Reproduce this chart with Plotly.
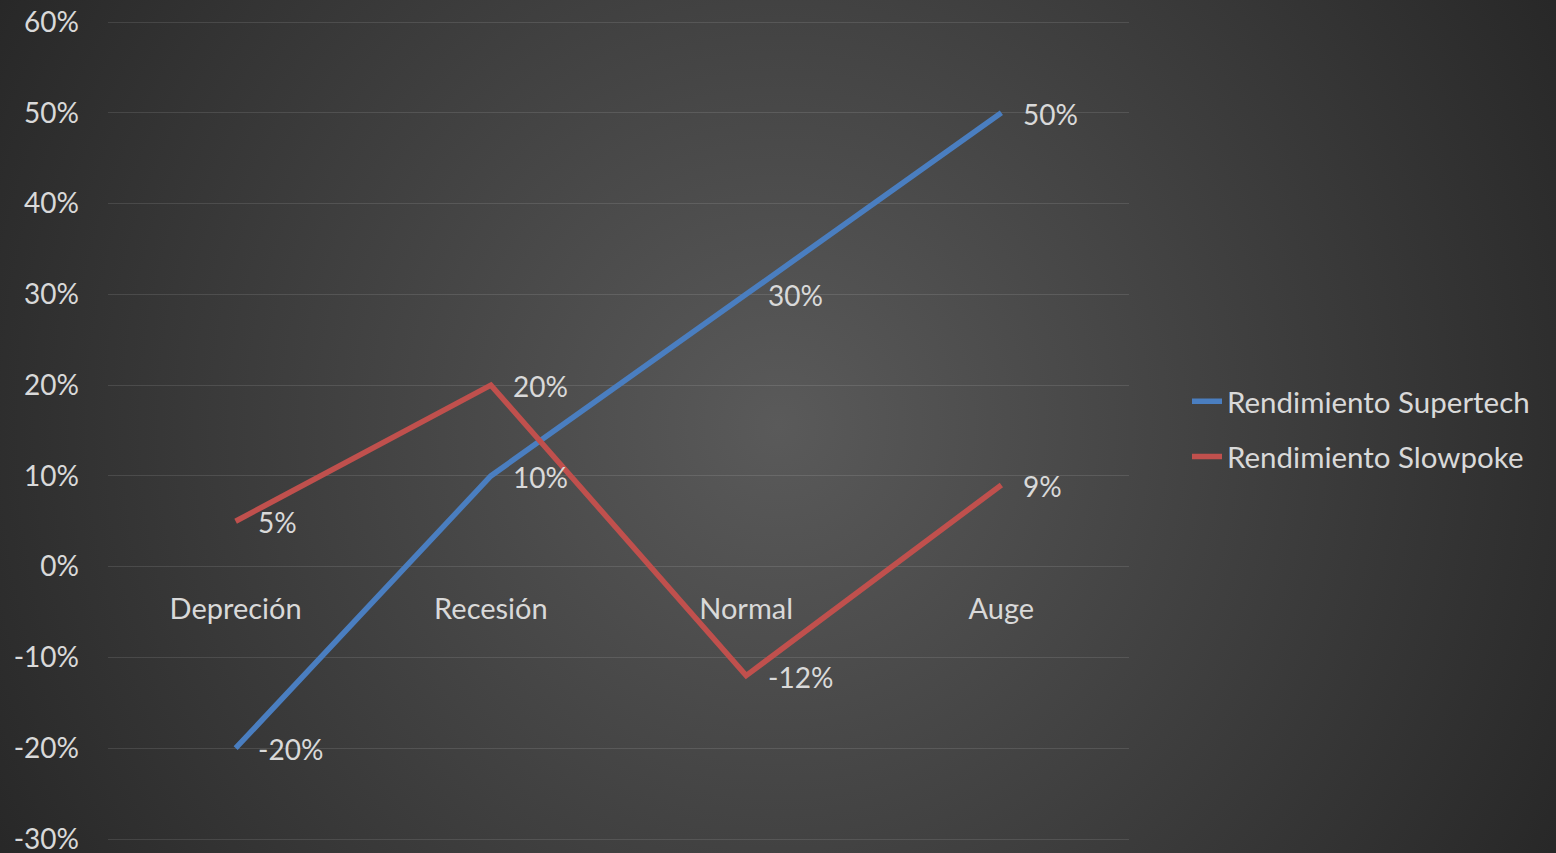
import base64
import plotly.graph_objects as go

# ---- data ----
categories = ["Depreción", "Recesión", "Normal", "Auge"]
supertech = [-0.20, 0.10, 0.30, 0.50]
slowpoke = [0.05, 0.20, -0.12, 0.09]
series_names = ["Rendimiento Supertech", "Rendimiento Slowpoke"]
y_tick_vals = [-0.3, -0.2, -0.1, 0.0, 0.1, 0.2, 0.3, 0.4, 0.5, 0.6]
y_tick_text = ["-30%", "-20%", "-10%", "0%", "10%", "20%", "30%", "40%", "50%", "60%"]

W, H = 1556, 853
FONT = "Lato, 'Open Sans', sans-serif"
TXT = "#d9d9d9"
BLUE = "#4a7ec0"
RED = "#c0504d"


def pct(v):
    return f"{round(v * 100):d}%"


# radial gradient background (Excel-like)
svg = (
    f'<svg xmlns="http://www.w3.org/2000/svg" width="{W}" height="{H}" viewBox="0 0 {W} {H}" preserveAspectRatio="none">'
    '<defs><radialGradient id="g" gradientUnits="userSpaceOnUse" cx="778" cy="426" r="900">'
    '<stop offset="0" stop-color="#5a5a5a"/><stop offset="1" stop-color="#272727"/>'
    '</radialGradient></defs><rect width="100%" height="100%" fill="url(#g)"/></svg>'
)
bg_uri = "data:image/svg+xml;base64," + base64.b64encode(svg.encode()).decode()

fig = go.Figure()
annotations = []
for name, vals, col in [(series_names[0], supertech, BLUE), (series_names[1], slowpoke, RED)]:
    fig.add_trace(go.Scatter(
        x=categories, y=vals, name=name, legendgroup=name,
        mode="lines",
        line=dict(color=col, width=5.5),
        cliponaxis=False, hoverinfo="skip",
    ))
    for c, v in zip(categories, vals):
        annotations.append(dict(
            x=c, y=v, xref="x", yref="y", text=pct(v), showarrow=False,
            xanchor="left", yanchor="middle", xshift=20, yshift=-1,
            font=dict(family=FONT, size=28, color=TXT),
        ))

# plot area geometry (pixels)
plot_left, plot_right = 108, 1129
y_top_val, y_bot_val = 0.6, -0.3
plot_top, plot_bottom = 22, 839
zero_y = 567
pad = 0.005
ppu = (plot_bottom - plot_top) / (y_top_val - y_bot_val)
dom_bottom = (H - (plot_bottom + pad * ppu)) / H
dom_top = (H - (plot_top - pad * ppu)) / H

fig.update_layout(
    width=W, height=H,
    margin=dict(l=0, r=0, t=0, b=0),
    paper_bgcolor="#2b2b2b",
    plot_bgcolor="rgba(0,0,0,0)",
    images=[dict(source=bg_uri, xref="paper", yref="paper", x=0, y=1,
                 sizex=1, sizey=1, sizing="stretch", layer="below",
                 xanchor="left", yanchor="top")],
    font=dict(family=FONT, size=28, color=TXT),
    annotations=annotations,
    xaxis=dict(
        type="category", categoryorder="array", categoryarray=categories,
        range=[-0.5, 3.5],
        domain=[plot_left / W, plot_right / W],
        anchor="free", position=(H - zero_y) / H,
        showgrid=False, zeroline=False, showline=False, ticks="",
        tickfont=dict(family=FONT, size=29, color=TXT),
        ticklabelstandoff=22,
        automargin=False,
    ),
    yaxis=dict(
        range=[y_bot_val - pad, y_top_val + pad],
        domain=[dom_bottom, dom_top],
        tickvals=y_tick_vals, ticktext=y_tick_text,
        showgrid=True, gridcolor="rgba(255,255,255,0.11)", gridwidth=1,
        zeroline=False, showline=False, ticks="",
        tickfont=dict(family=FONT, size=28, color=TXT),
        ticklabelstandoff=28, ticklabeloverflow="allow",
        automargin=False,
    ),
    legend=dict(
        x=1187 / W, y=(H - 429) / H, xanchor="left", yanchor="middle",
        bgcolor="rgba(0,0,0,0)", borderwidth=0,
        font=dict(family=FONT, size=29.5, color=TXT),
        traceorder="grouped", tracegroupgap=14,
    ),
    showlegend=True,
)

fig.write_html("out.html")
